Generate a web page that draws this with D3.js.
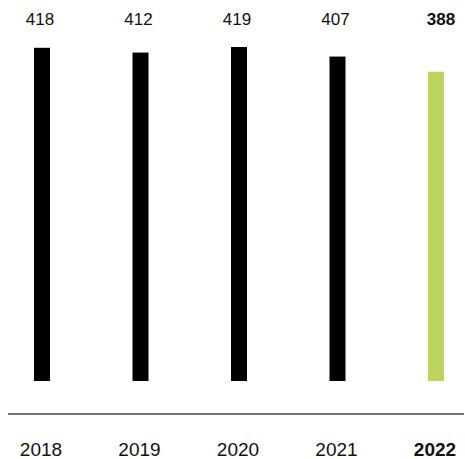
<!DOCTYPE html>
<html>
<head>
<meta charset="utf-8">
<script src="https://cdn.jsdelivr.net/npm/d3@7"></script>
<style>
  html, body { margin: 0; padding: 0; background: #fff; }
  svg { display: block; }
  text { font-family: "Liberation Sans", Arial, sans-serif; fill: #111; }
</style>
</head>
<body>
<svg id="chart" width="465" height="459"></svg>
<script>
const years = ["2018", "2019", "2020", "2021", "2022"];
const values = [418, 412, 419, 407, 388];
const highlight = "2022";

const W = 465, H = 459;
const svg = d3.select("#chart");

const x = d3.scalePoint().domain(years).range([42, 436]);
const y = d3.scaleLinear().domain([0, 419]).range([381, 47]);
const data = years.map((yr, i) => ({ year: yr, value: values[i] }));
const barW = 16;

svg.selectAll("rect.bar").data(data).enter().append("rect")
  .attr("class", "bar")
  .attr("x", d => x(d.year) - barW / 2)
  .attr("width", barW)
  .attr("y", d => y(d.value))
  .attr("height", d => y(0) - y(d.value))
  .attr("fill", d => d.year === highlight ? "#bdd55e" : "#000");

svg.selectAll("text.val").data(data).enter().append("text")
  .attr("class", "val")
  .attr("x", d => x(d.year) + (d.year === highlight ? 5 : -2))
  .attr("y", 25)
  .attr("text-anchor", "middle")
  .attr("font-size", 17)
  .attr("font-weight", d => d.year === highlight ? "bold" : "normal")
  .text(d => d.value);

svg.append("line")
  .attr("x1", 8).attr("x2", 464)
  .attr("y1", 414).attr("y2", 414)
  .attr("stroke", "#444").attr("stroke-width", 1.6);

svg.selectAll("text.yr").data(data).enter().append("text")
  .attr("class", "yr")
  .attr("x", d => x(d.year) - 1)
  .attr("y", 456)
  .attr("text-anchor", "middle")
  .attr("font-size", 19)
  .attr("font-weight", d => d.year === highlight ? "bold" : "normal")
  .text(d => d.year);
</script>
</body>
</html>
